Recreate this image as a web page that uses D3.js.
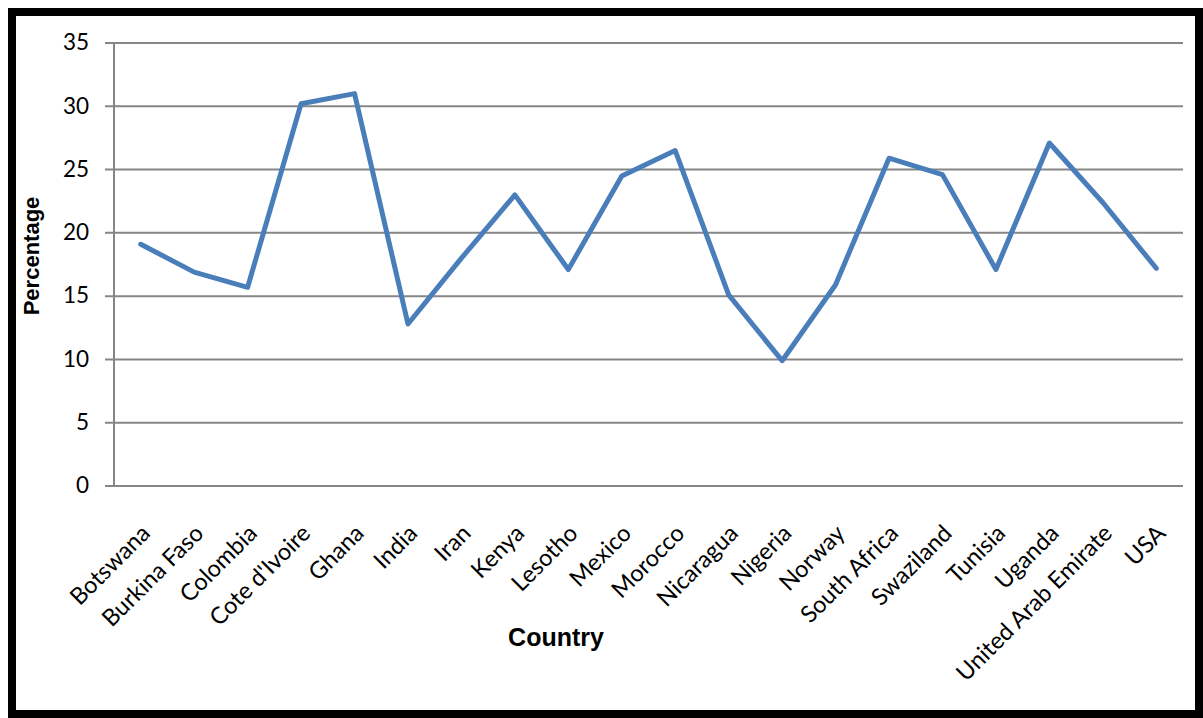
<!DOCTYPE html>
<html>
<head>
<meta charset="utf-8">
<script src="https://cdn.jsdelivr.net/npm/d3@7"></script>
<style>
  body { margin: 0; background: #fff; }
  svg { display: block; }
  .tick text { font-family: Lato, "Open Sans", sans-serif; fill: #000; }
  .axis-title { font-family: "Liberation Sans", Arial, sans-serif; font-weight: bold; fill: #000; }
</style>
</head>
<body>
<svg id="chart"></svg>
<script>

// data
var countries = ["Botswana", "Burkina Faso", "Colombia", "Cote d'Ivoire", "Ghana", "India",
                 "Iran", "Kenya", "Lesotho", "Mexico", "Morocco", "Nicaragua", "Nigeria",
                 "Norway", "South Africa", "Swaziland", "Tunisia", "Uganda",
                 "United Arab Emirate", "USA"];
var percentages = [19.1, 16.9, 15.7, 30.2, 31.0, 12.8, 18.0, 23.0, 17.1, 24.5, 26.5,
                   15.1, 9.9, 15.9, 25.9, 24.6, 17.1, 27.1, 22.4, 17.2];
var yTicks = [0, 5, 10, 15, 20, 25, 30, 35];

var W = 1203, H = 718,
    plot = {left: 114, right: 1183, top: 43, bottom: 486};

var svg = d3.select("#chart")
    .attr("width", W)
    .attr("height", H);

svg.append("rect")
    .attr("width", W).attr("height", H)
    .attr("fill", "#fff");

var x = d3.scaleBand()
    .domain(countries)
    .range([plot.left, plot.right]);

var y = d3.scaleLinear()
    .domain([0, 35])
    .range([plot.bottom, plot.top]);

// gridlines
svg.append("g")
    .selectAll("line")
    .data(yTicks)
    .enter().append("line")
    .attr("x1", plot.left - 9)
    .attr("x2", plot.right)
    .attr("y1", function(d) { return y(d); })
    .attr("y2", function(d) { return y(d); })
    .attr("stroke", "#868686")
    .attr("stroke-width", 2);

// y axis
var yAxis = d3.axisLeft(y)
    .tickValues(yTicks)
    .tickSize(0)
    .tickPadding(25);

var gy = svg.append("g")
    .attr("class", "y axis")
    .attr("transform", "translate(" + plot.left + ",0)")
    .call(yAxis);
gy.select(".domain").remove();
gy.selectAll("text").style("font-size", "22.5px").attr("dy", "0.3em");

svg.append("line")
    .attr("x1", plot.left).attr("x2", plot.left)
    .attr("y1", plot.top).attr("y2", plot.bottom + 1)
    .attr("stroke", "#868686")
    .attr("stroke-width", 2);

// x axis labels
var xAxis = d3.axisBottom(x).tickSize(0).tickPadding(0);

var gx = svg.append("g")
    .attr("class", "x axis")
    .attr("transform", "translate(0," + plot.bottom + ")")
    .call(xAxis);
gx.select(".domain").remove();
gx.selectAll("text")
    .style("font-size", "23.5px")
    .style("text-anchor", "end")
    .attr("y", 0)
    .attr("dy", "0.35em")
    .attr("transform", "translate(5,43) rotate(-45)");

// the line
var line = d3.line()
    .x(function(d, i) { return x(countries[i]) + x.bandwidth() / 2; })
    .y(function(d) { return y(d); });

svg.append("path")
    .datum(percentages)
    .attr("fill", "none")
    .attr("stroke", "#4a7ebb")
    .attr("stroke-width", 5)
    .attr("stroke-linejoin", "round")
    .attr("stroke-linecap", "round")
    .attr("d", line);

// axis titles
svg.append("text")
    .attr("class", "axis-title")
    .attr("transform", "translate(39,256) rotate(-90)")
    .attr("text-anchor", "middle")
    .style("font-size", "22px")
    .text("Percentage");

svg.append("text")
    .attr("class", "axis-title")
    .attr("x", 556)
    .attr("y", 646)
    .attr("text-anchor", "middle")
    .style("font-size", "25px")
    .text("Country");

// frame
svg.append("rect")
    .attr("x", 12).attr("y", 12)
    .attr("width", 1187).attr("height", 702)
    .attr("fill", "none")
    .attr("stroke", "#000")
    .attr("stroke-width", 8);

</script>
</body>
</html>
